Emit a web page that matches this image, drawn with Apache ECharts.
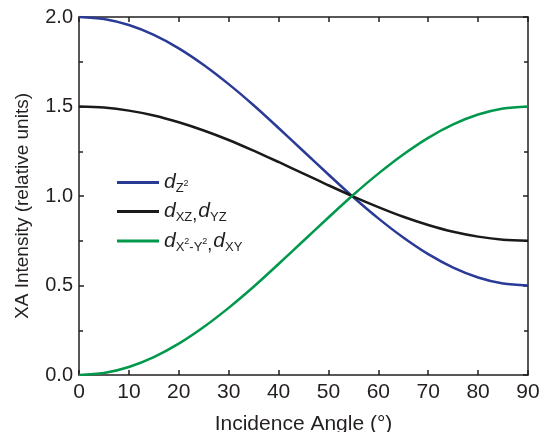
<!DOCTYPE html>
<html><head><meta charset="utf-8">
<script src="https://cdn.jsdelivr.net/npm/echarts@6/dist/echarts.min.js"></script>
<style>html,body{margin:0;padding:0;background:#fff}#c{width:540px;height:432px}</style>
</head><body><div id="c"></div>
<script>
const angles = [0,5,10,15,20,25,30,35,40,45,50,55,60,65,70,75,80,85,90];
const dZ2 = [2.000,1.989,1.955,1.900,1.825,1.732,1.625,1.507,1.380,1.250,1.120,0.993,0.875,0.768,0.675,0.600,0.545,0.511,0.500];
const dXZ = [1.500,1.494,1.477,1.450,1.412,1.366,1.313,1.253,1.190,1.125,1.060,0.997,0.938,0.884,0.838,0.800,0.773,0.756,0.750];
const dX2 = [0.000,0.011,0.045,0.100,0.175,0.268,0.375,0.493,0.620,0.750,0.880,1.007,1.125,1.232,1.325,1.400,1.455,1.489,1.500];
const yTicks = ['0.0','0.5','1.0','1.5','2.0'];
const xTicks = ['0','10','20','30','40','50','60','70','80','90'];

const pair = (ys) => angles.map((a,i)=>[a, ys[i]]);
const axisCol = '#231f20';
const font = 'Liberation Sans, Arial, sans-serif';
const ch = echarts.init(document.getElementById('c'));
const axLine = {show:true, onZero:false, lineStyle:{color:axisCol, width:1.5}};
const tick = {show:true, inside:true, length:5, lineStyle:{color:axisCol, width:1.5}};
const minor = {show:true, splitNumber:2, length:4, lineStyle:{color:axisCol, width:1.5}};
ch.setOption({
  animation:false,
  grid:{left:79, right:12, top:17, bottom:57, containLabel:false, outerBoundsMode:'none'},
  legend:{
    orient:'vertical', left:112, top:167, itemWidth:42, itemHeight:3, itemGap:6,
    icon:'rect',
    data:['dz2','dxz','dx2'],
    formatter: function(n){
      if(n==='dz2') return '{d|d}{s|Z}{ss|2}';
      if(n==='dxz') return '{d|d}{s|XZ}{c|,}{d|d}{s|YZ}';
      return '{d|d}{s|X}{ss|2}{s|-Y}{ss|2}{c|,}{d|d}{s|XY}';
    },
    textStyle:{
      fontFamily:font, color:'#231f20',
      rich:{
        d:{fontSize:21, fontStyle:'italic', fontFamily:font, color:'#231f20'},
        s:{fontSize:13, fontFamily:font, color:'#231f20', padding:[12,0,0,0]},
        ss:{fontSize:9, fontFamily:font, color:'#231f20', padding:[2,0,0,0]},
        c:{fontSize:18, fontFamily:font, color:'#231f20', padding:[8,1,0,0]}
      }
    }
  },
  xAxis:[{
    type:'value', min:0, max:90, interval:10,
    name:'Incidence Angle (°)', nameLocation:'middle', nameGap:39,
    nameTextStyle:{fontSize:21, fontFamily:font, color:axisCol},
    axisLine:axLine, axisTick:tick,
    axisLabel:{fontSize:21, fontFamily:font, color:axisCol, margin:7, formatter:(v)=>xTicks[Math.round(v/10)]},
    splitLine:{show:false}
  },{
    type:'value', position:'top', min:0, max:90, interval:10,
    axisLine:axLine, axisTick:tick,
    axisLabel:{show:false}, splitLine:{show:false}
  }],
  yAxis:[{
    type:'value', min:0, max:2, interval:0.5,
    name:'XA Intensity (relative units)', nameLocation:'middle', nameGap:47,
    nameTextStyle:{fontSize:19, fontFamily:font, color:axisCol, padding:[0,20,0,0]},
    axisLine:axLine, axisTick:tick, minorTick:minor,
    axisLabel:{fontSize:20, fontFamily:font, color:axisCol, margin:6, formatter:(v)=>yTicks[Math.round(v/0.5)]},
    splitLine:{show:false}
  },{
    type:'value', position:'right', min:0, max:2, interval:0.5,
    axisLine:axLine, axisTick:tick, minorTick:minor,
    axisLabel:{show:false}, splitLine:{show:false}
  }],
  series:[
    {name:'dz2', type:'line', data:pair(dZ2), smooth:0.3, showSymbol:false, symbol:'none', lineStyle:{color:'#2a3a97', width:2.5}, itemStyle:{color:'#2a3a97'}},
    {name:'dxz', type:'line', data:pair(dXZ), smooth:0.3, showSymbol:false, symbol:'none', lineStyle:{color:'#1a1a1a', width:2.5}, itemStyle:{color:'#1a1a1a'}},
    {name:'dx2', type:'line', data:pair(dX2), smooth:0.3, showSymbol:false, symbol:'none', lineStyle:{color:'#00994c', width:2.5}, itemStyle:{color:'#00994c'}}
  ]
});
</script></body></html>
